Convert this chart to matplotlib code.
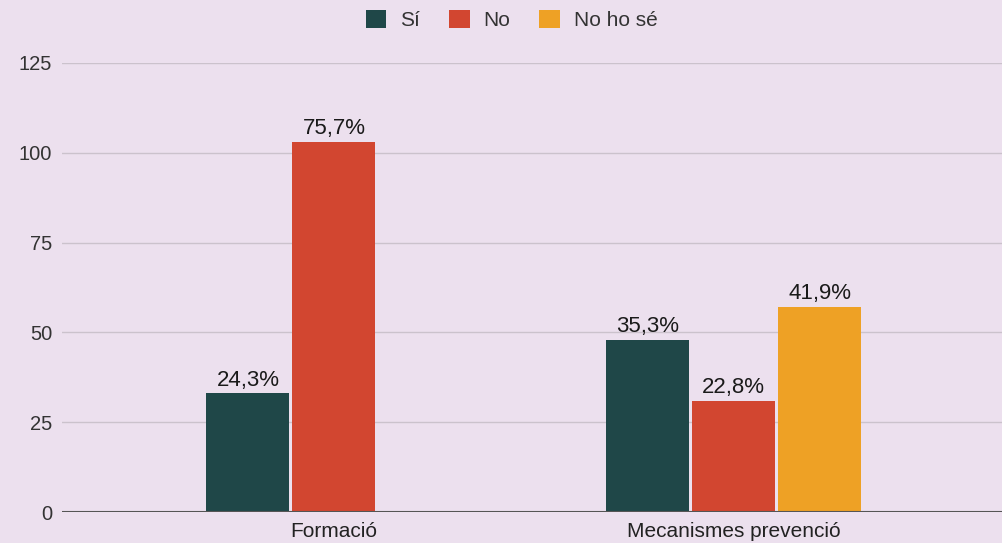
import matplotlib.pyplot as plt
import numpy as np

plt.rcParams['font.family'] = ['Liberation Sans', 'DejaVu Sans']

categories = ['Formació', 'Mecanismes prevenció']
series = ['Sí', 'No', 'No ho sé']
values = {
    'Sí': [33, 48],
    'No': [103, 31],
    'No ho sé': [0, 57],
}
labels = {
    'Sí': ['24,3%', '35,3%'],
    'No': ['75,7%', '22,8%'],
    'No ho sé': ['', '41,9%'],
}
colors = ['#1f4748', '#d24630', '#eea125']
bg = '#ece0ee'

fig = plt.figure(figsize=(10.03, 5.43), dpi=100, facecolor=bg)
ax = fig.add_axes([62 / 1003, 31 / 543, 1 - 62 / 1003, (512 - 63) / 543])
ax.set_facecolor(bg)

x = np.arange(len(categories))
w = 0.2075
step = 0.215
for i, (name, c) in enumerate(zip(series, colors)):
    pos = x + (i - 1) * step
    bars = ax.bar(pos, values[name], width=w, color=c, label=name, zorder=3)
    for b, txt in zip(bars, labels[name]):
        if txt:
            ax.text(b.get_x() + b.get_width() / 2, b.get_height() + 2.2, txt,
                    ha='center', va='baseline', fontsize=16, color='#1a1a1a')

ax.set_xlim(-0.68, 1.673)
ax.set_ylim(0, 125)
ax.set_yticks(range(0, 126, 25))
ax.yaxis.grid(True, color='#cbc2cc', linewidth=1, zorder=0)
ax.set_axisbelow(True)
for s in ax.spines.values():
    s.set_visible(False)
ax.axhline(0, color='#555555', linewidth=1.5, zorder=4)
ax.tick_params(axis='y', length=0, pad=7, labelsize=14.5, labelcolor='#333333')
ax.tick_params(axis='x', length=0, pad=7, labelsize=15, labelcolor='#222222')
ax.set_xticks(x)
ax.set_xticklabels(categories)

leg = fig.legend(loc='center', bbox_to_anchor=(0.51, 1 - 20 / 543), ncol=3, frameon=False,
                 fontsize=15, handlelength=1.0, handleheight=1.0, columnspacing=1.4,
                 handletextpad=0.65, borderpad=0)
for t in leg.get_texts():
    t.set_color('#333333')

fig.savefig('out.png', dpi=100, facecolor=bg)
